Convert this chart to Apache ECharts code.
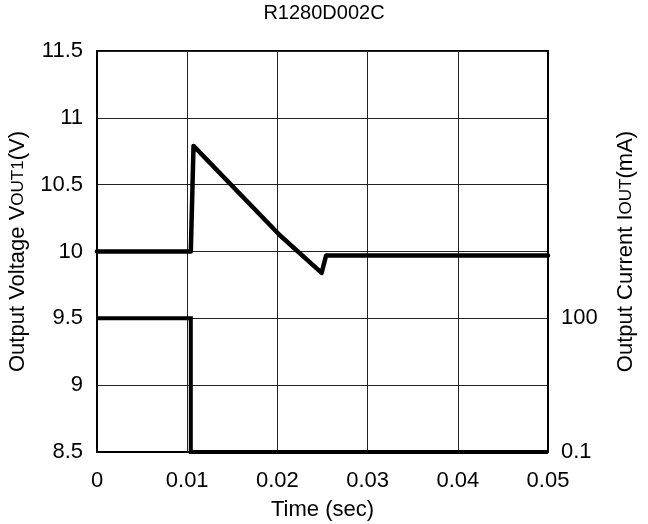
<!DOCTYPE html>
<html><head><meta charset="utf-8">
<script src="https://cdn.jsdelivr.net/npm/echarts@6/dist/echarts.min.js"></script>
<style>html,body{margin:0;padding:0;background:#fff}#c{width:648px;height:524px}</style>
</head><body><div id="c"></div>
<script>
const timeTicks = [0, 0.01, 0.02, 0.03, 0.04, 0.05];
const voltageTime = [0, 0.0104, 0.0107, 0.0203, 0.0249, 0.0254, 0.03, 0.04, 0.05];
const voltageValues = [10.0, 10.0, 10.79, 10.12, 9.84, 9.97, 9.97, 9.97, 9.97];
const currentTime = [0, 0.0104, 0.0104, 0.05];
const currentValues = [100, 100, 0.1, 0.1];
const voltageTicks = [8.5, 9, 9.5, 10, 10.5, 11, 11.5];
const currentTickLabels = ['0.1', '100'];

const font = 'Liberation Sans, Arial, sans-serif';
const chart = echarts.init(document.getElementById('c'), null, {renderer: 'canvas'});
chart.setOption({
  animation: false,
  title: {text: 'R1280D002C', left: 'center', top: -2,
    textStyle: {fontFamily: font, fontSize: 20, fontWeight: 'normal', color: '#000'}},
  grid: {left: 97, right: 100, top: 51, bottom: 72, show: true, borderColor: '#000', borderWidth: 2,
    containLabel: false, outerBoundsMode: 'none'},
  xAxis: {type: 'value', min: timeTicks[0], max: timeTicks[timeTicks.length - 1], interval: 0.01,
    name: 'Time (sec)', nameLocation: 'middle', nameGap: 47,
    nameTextStyle: {fontFamily: font, fontSize: 22, color: '#000'},
    axisLine: {show: true, lineStyle: {color: '#000', width: 2}}, axisTick: {show: false},
    axisLabel: {fontFamily: font, fontSize: 22, color: '#000', margin: 18,
      formatter: v => String(parseFloat(v.toFixed(2)))},
    splitLine: {show: true, lineStyle: {color: '#222', width: 1}}},
  yAxis: [
    {type: 'value', min: voltageTicks[0], max: voltageTicks[voltageTicks.length - 1], interval: 0.5,
      name: 'Output Voltage V{s|OUT1}(V)', nameLocation: 'middle', nameGap: 64, nameRotate: 90,
      nameTextStyle: {fontFamily: font, fontSize: 22, color: '#000',
        rich: {s: {fontFamily: font, fontSize: 17, color: '#000'}}},
      axisLine: {show: true, lineStyle: {color: '#000', width: 2}}, axisTick: {show: false},
      axisLabel: {fontFamily: font, fontSize: 22, color: '#000', margin: 14},
      splitLine: {show: true, lineStyle: {color: '#222', width: 1}}},
    {type: 'log', logBase: 10, min: 0.1, max: 1e8, position: 'right',
      name: 'Output Current I{s|OUT}(mA)', nameLocation: 'middle', nameGap: 67, nameRotate: 90,
      nameTextStyle: {fontFamily: font, fontSize: 22, color: '#000',
        rich: {s: {fontFamily: font, fontSize: 17, color: '#000'}}},
      axisLine: {show: true, lineStyle: {color: '#000', width: 2}}, axisTick: {show: false},
      axisLabel: {fontFamily: font, fontSize: 22, color: '#000', margin: 13,
        formatter: v => {const s = String(parseFloat(v.toPrecision(6))); return currentTickLabels.includes(s) ? s : '';}},
      splitLine: {show: false}}
  ],
  series: [
    {type: 'line', yAxisIndex: 0, showSymbol: false, symbol: 'none', clip: false,
      lineStyle: {color: '#000', width: 4.5, join: 'round', cap: 'round'},
      data: voltageTime.map((t, i) => [t, voltageValues[i]])},
    {type: 'line', yAxisIndex: 1, showSymbol: false, symbol: 'none', clip: false,
      lineStyle: {color: '#000', width: 4, join: 'miter'},
      data: currentTime.map((t, i) => [t, currentValues[i]])}
  ]
});
</script></body></html>
